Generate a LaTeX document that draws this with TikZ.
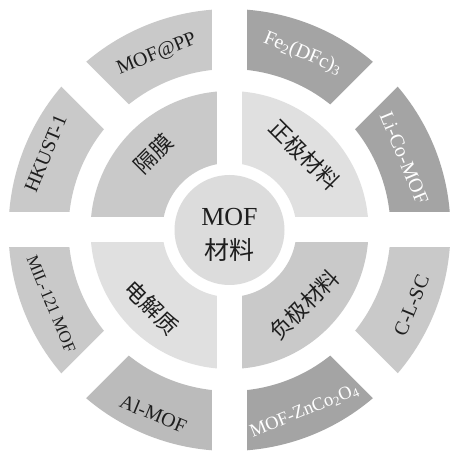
\documentclass[tikz,border=0pt]{standalone}
\usepackage{fontspec}
\setmainfont{Liberation Serif}
\newfontfamily\cjk{Noto Sans CJK SC}
\definecolor{ringlight}{HTML}{C9C9C9}
\definecolor{ringdark}{HTML}{A4A4A4}
\definecolor{ringmid}{HTML}{BBBBBB}
\definecolor{innerlight}{HTML}{E0E0E0}
\definecolor{innermid}{HTML}{C9C9C9}
\definecolor{corefill}{HTML}{DCDCDC}
\definecolor{inktext}{HTML}{1E1E1E}
\newcommand\ringsector[5]{%
  \fill[#5] (#1:#3pt) arc[start angle=#1,end angle=#2,radius=#3pt]
    -- (#2:#4pt) arc[start angle=#2,end angle=#1,radius=#4pt] -- cycle;}
\tikzset{
  outerlabel/.style={font=\fontsize{20}{24}\selectfont, text=inktext, inner sep=0pt},
  outerwhite/.style={outerlabel, text=white},
  innerlabel/.style={font=\cjk\fontsize{22}{26}\selectfont, text=inktext, inner sep=0pt},
  corelabel/.style={text=inktext, inner sep=0pt},
}
\begin{document}
\begin{tikzpicture}[x=1pt,y=1pt]
\useasboundingbox (0,0) rectangle (452,453);
\fill[white] (0,0) rectangle (452,453);
\begin{scope}[shift={(229.5pt,223pt)}]
  % outer ring
  \ringsector{90}{135}{221}{161}{ringlight}
  \ringsector{45}{90}{221}{161}{ringdark}
  \ringsector{0}{45}{221}{161}{ringdark}
  \ringsector{-45}{0}{221}{161}{ringlight}
  \ringsector{-90}{-45}{221}{161}{ringdark}
  \ringsector{-135}{-90}{221}{161}{ringmid}
  \ringsector{-180}{-135}{221}{161}{ringlight}
  \ringsector{135}{180}{221}{161}{ringlight}
  % inner ring
  \ringsector{90}{180}{139}{67}{innermid}
  \ringsector{0}{90}{139}{67}{innerlight}
  \ringsector{180}{270}{139}{67}{innerlight}
  \ringsector{270}{360}{139}{67}{innermid}
  % gaps
  \foreach \t in {0,45,90,135} {
    \fill[white,rotate=\t] (148pt,-17.5pt) rectangle (240pt,17.5pt);
    \fill[white,rotate=\t] (-240pt,-17.5pt) rectangle (-148pt,17.5pt);
  }
  \foreach \t in {0,90} {
    \fill[white,rotate=\t] (-150pt,-12.5pt) rectangle (150pt,12.5pt);
  }
  % core
  \fill[corefill] (0,0) circle[radius=55pt];
  \node[corelabel, font=\fontsize{26}{30}\selectfont] (mof) at (0pt,13pt) {MOF};
  \node[corelabel, font=\cjk\fontsize{25}{30}\selectfont] (cailiao) at (0pt,-20pt) {材料};
  % inner labels
  \node[innerlabel, rotate=45] (gemo) at (135:108pt) {隔膜};
  \node[innerlabel, rotate=-45] (zhengji) at (45:106pt) {正极材料};
  \node[innerlabel, rotate=-45] (dianjie) at (-135:110pt) {电解质};
  \node[innerlabel, rotate=45] (fuji) at (-45:106pt) {负极材料};
  % outer labels
  \node[outerlabel, rotate=22.5] (mofpp) at (112.5:190pt) {MOF@PP};
  \node[outerwhite, rotate=-22.5] (fedfc) at (67.5:191pt) {Fe\textsubscript{2}(DFc)\textsubscript{3}};
  \node[outerwhite, rotate=-67.5] (licomof) at (22.5:189pt) {Li-Co-MOF};
  \node[outerlabel, rotate=67.5] (clsc) at (-22.5:197pt) {C-L-SC};
  \node[outerwhite, rotate=22.5, font=\fontsize{18.5}{22}\selectfont] (znco) at (-67.5:196pt) {MOF-ZnCo\textsubscript{2}O\textsubscript{4}};
  \node[outerlabel, rotate=-22.5] (almof) at (-112.5:199pt) {Al-MOF};
  \node[outerlabel, rotate=-67.5, font=\fontsize{17}{20}\selectfont] (mil) at (-157.5:193pt) {MIL-121 MOF};
  \node[outerlabel, rotate=67.5] (hkust) at (157.5:199pt) {HKUST-1};
\end{scope}
\end{tikzpicture}
\end{document}
